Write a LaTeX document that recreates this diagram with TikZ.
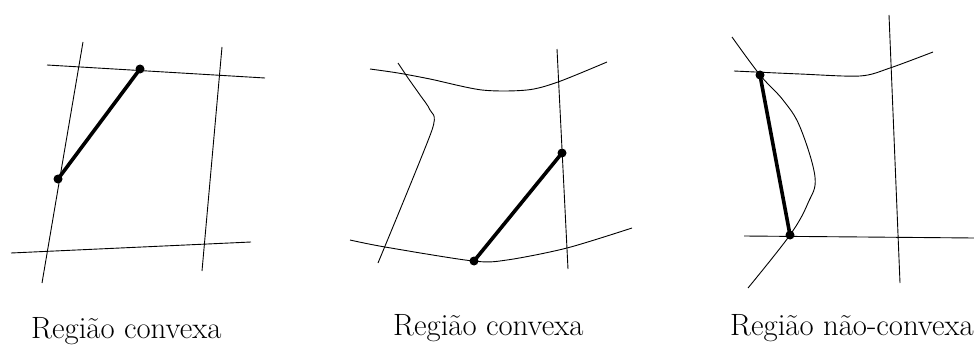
\documentclass[tikz,border=0pt]{standalone}
\begin{document}
\begin{tikzpicture}[x=1pt,y=-1pt,
  thinline/.style={line width=0.9pt},
  seg/.style={line width=3.6pt, line cap=round},
  dot/.style={fill=black},
  lab/.style={anchor=base west, inner sep=0pt, font=\fontsize{30.8}{33}\selectfont}]
\useasboundingbox (0,0) rectangle (974,345);
% Panel 1
\draw[thinline] (83,42) -- (42,283);
\draw[thinline] (47,65) -- (265,78);
\draw[thinline] (222,47) -- (202,271);
\draw[thinline] (11,253) -- (251,242);
\coordinate (a1) at (140,69);
\coordinate (b1) at (58,179);
\draw[seg] (a1) -- (b1);
\fill[dot] (a1) circle (4.5);
\fill[dot] (b1) circle (4.5);
\node[lab] (t1) at (31,338) {Região convexa};
% Panel 2
\draw[thinline] plot[smooth, tension=0.5] coordinates {(370,69) (398,73) (430,79) (482,90) (527,90) (558,82) (607,62)};
\draw[thinline] plot[smooth, tension=0.4] coordinates {(398,63) (408,78) (420,95) (430,110) (432,130) (378,263)};
\draw[thinline] (557,49) -- (568,269);
\draw[thinline] plot[smooth, tension=0.5] coordinates {(350,240) (385,247) (473,261) (507,260) (567,248) (632,228)};
\coordinate (a2) at (474,261);
\coordinate (b2) at (562,153);
\draw[seg] (a2) -- (b2);
\fill[dot] (a2) circle (4.5);
\fill[dot] (b2) circle (4.5);
\node[lab] (t2) at (393,335) {Região convexa};
% Panel 3
\draw[thinline] plot[smooth, tension=0.6] coordinates {(732,37) (760,75) (783,100) (800,127) (815,177) (808,203) (790,235) (748,288)};
\draw[thinline] plot[smooth, tension=0.5] coordinates {(734,71) (800,74) (860,76) (890,68) (933,52)};
\draw[thinline] (889,15) -- (900,283);
\draw[thinline] (744,236) -- (863,237) -- (974,238);
\coordinate (a3) at (760,75);
\coordinate (b3) at (790,235);
\draw[seg] (a3) -- (b3);
\fill[dot] (a3) circle (4.5);
\fill[dot] (b3) circle (4.5);
\node[lab] (t3) at (730,335) {Região não-convexa};
\end{tikzpicture}
\end{document}
